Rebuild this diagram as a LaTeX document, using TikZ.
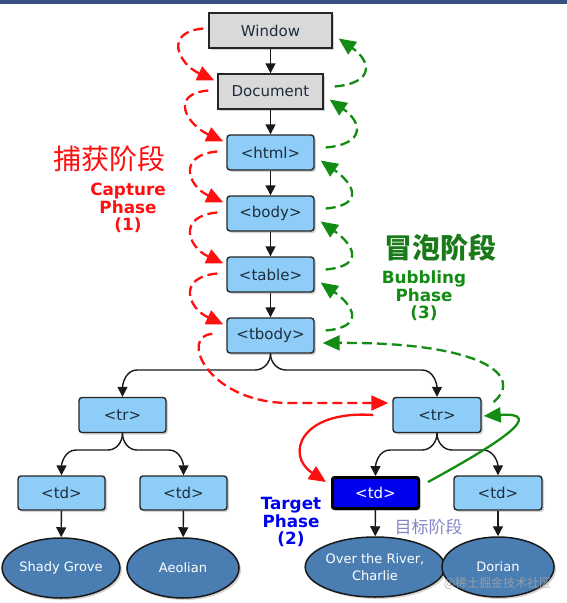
\documentclass[tikz,border=0pt]{standalone}
\usepackage{fontspec}
\setmainfont{DejaVu Sans}
\newfontfamily\cjk{Noto Sans CJK SC}
\usetikzlibrary{arrows.meta,shapes.geometric,shadows}
\definecolor{boxblue}{HTML}{8DCDF7}
\definecolor{boxgray}{HTML}{D9D9D9}
\definecolor{ellblue}{HTML}{4A7EB2}
\definecolor{txtdark}{HTML}{1E2D3D}
\definecolor{redc}{HTML}{FF1010}
\definecolor{greenc}{HTML}{128C12}
\definecolor{greenz}{HTML}{1A7A1A}
\definecolor{tgtblue}{HTML}{0000F0}
\definecolor{purp}{HTML}{8585CC}
\definecolor{barblue}{HTML}{36507F}
\tikzset{
  base/.style={draw=black!85, line width=1.4pt, text=txtdark, font=\fontsize{15}{16}\selectfont, inner sep=0pt,
    drop shadow={shadow xshift=2pt,shadow yshift=-2pt,opacity=0.35}},
  graybox/.style={base, fill=boxgray, minimum height=35pt},
  bluebox/.style={base, fill=boxblue, rounded corners=3pt, minimum width=87pt, minimum height=35pt},
  tgtbox/.style={bluebox, fill=tgtblue, draw=black, line width=3pt, text=white, rounded corners=2pt, minimum width=86pt, minimum height=31pt},
  leaf/.style={ellipse, draw=black!90, line width=1.5pt, fill=ellblue, text=white, minimum width=112pt, minimum height=60pt,
    inner sep=0pt, font=\fontsize{13}{17}\selectfont, align=center,
    drop shadow={shadow xshift=2pt,shadow yshift=-2pt,opacity=0.35}},
  tree/.style={draw=black!90, line width=1.4pt, -{Triangle[length=10pt,width=10pt]}},
  capt/.style={draw=redc, line width=2.3pt, dash pattern=on 10pt off 5pt, -{Triangle[length=17pt,width=15pt]}},
  bubl/.style={draw=greenc, line width=2.3pt, dash pattern=on 10pt off 5pt, -{Triangle[length=17pt,width=15pt]}},
  captsolid/.style={draw=redc, line width=2.3pt, -{Triangle[length=17pt,width=15pt]}},
  bublsolid/.style={draw=greenc, line width=2.3pt, -{Triangle[length=17pt,width=15pt]}},
  phase/.style={font=\bfseries\fontsize{16.8}{17.5}\selectfont, align=center},
}
\begin{document}
\begin{tikzpicture}[x=1pt,y=1pt]
\useasboundingbox (0,0) rectangle (567,-603);
\fill[barblue] (0,0) rectangle (567,-4);

% main chain
\node[graybox, minimum width=123pt] (win) at (270.5,-30.5) {Window};
\node[graybox, minimum width=105pt] (doc) at (270.5,-91.5) {Document};
\node[bluebox] (html) at (270.5,-152.5) {<html>};
\node[bluebox] (body) at (270.5,-213.5) {<body>};
\node[bluebox] (table) at (270.5,-274.5) {<table>};
\node[bluebox] (tbody) at (270.5,-335.5) {<tbody>};
\node[bluebox] (trL) at (122.5,-415) {<tr>};
\node[bluebox, minimum width=88pt] (trR) at (437,-415) {<tr>};
\node[bluebox, minimum height=34pt] (td1) at (61.5,-493) {<td>};
\node[bluebox, minimum height=34pt] (td2) at (183.5,-493) {<td>};
\node[tgtbox] (tdT) at (375.5,-493) {<td>};
\node[bluebox, minimum width=88pt, minimum height=34pt] (td4) at (498,-493) {<td>};
\node[leaf] (e1) at (61,-568) {Shady Grove};
\node[leaf] (e2) at (183,-568) {Aeolian};
\node[leaf] (e3) at (375,-567) {Over the River,\\Charlie};
\node[leaf] (e4) at (498,-567) {Dorian};

% tree connectors
\draw[tree] (win) -- (doc);
\draw[tree] (doc) -- (html);
\draw[tree] (html) -- (body);
\draw[tree] (body) -- (table);
\draw[tree] (table) -- (tbody);
\draw[tree] (tbody.south) to[out=-90,in=0] (255,-370) -- (137,-370) to[out=180,in=90] (trL.north);
\draw[tree] (tbody.south) to[out=-90,in=180] (286,-370) -- (422,-370) to[out=0,in=90] (trR.north);
\draw[tree] (trL.south) to[out=-90,in=0] (108,-450) -- (76,-450) to[out=180,in=90] (td1.north);
\draw[tree] (trL.south) to[out=-90,in=180] (137,-450) -- (169,-450) to[out=0,in=90] (td2.north);
\draw[tree] (trR.south) to[out=-90,in=0] (422,-450) -- (390,-450) to[out=180,in=90] (tdT.north);
\draw[tree] (trR.south) to[out=-90,in=180] (452,-450) -- (483,-450) to[out=0,in=90] (td4.north);
\draw[tree] (td1) -- (e1);
\draw[tree] (td2) -- (e2);
\draw[tree] (tdT) -- (e3);
\draw[tree] (td4) -- (e4);

% capture (red dashed)
\draw[capt] ([shift={(-5,2)}]win.west) to[out=185,in=155,distance=40pt] ([shift={(-3,11)}]doc.west);
\foreach \a/\b in {doc/html, html/body, body/table, table/tbody}
  \draw[capt] ([shift={(-9,1)}]\a.west) to[out=185,in=155,distance=40pt] ([shift={(-3,11)}]\b.west);
% bubbling (green dashed)
\foreach \a/\b in {doc/win, html/doc, body/html, table/body, tbody/table}
  \draw[bubl] ([shift={(11,5)}]\a.east) to[out=5,in=-35,distance=40pt] ([shift={(6,-8)}]\b.east);

% big crossing arrows
\draw[capt] ([shift={(-14,1.5)}]tbody.west) .. controls (180,-335) and (205,-400) .. (285,-403) -- ([shift={(-4,12)}]trR.west);
\draw[bubl] ([shift={(12,13)}]trR.east) .. controls (525,-375) and (480,-342) .. ([shift={(8,-7.5)}]tbody.east);
\draw[captsolid] ([shift={(-19,0)}]trR.west) .. controls (300,-410) and (285,-455) .. ([shift={(-5,11)}]tdT.west);
\draw[bublsolid] ([shift={(8,11)}]tdT.east) .. controls (505,-440) and (545,-412) .. ([shift={(2,-1)}]trR.east);

% labels
\node[text=redc, font=\cjk\fontsize{28}{30}\selectfont] (capzh) at (109.5,-159) {捕获阶段};
\node[phase, text=redc] (capen) at (128,-208) {Capture\\Phase\\(1)};

\node[text=greenz, font=\cjk\bfseries\fontsize{28}{30}\selectfont] (bubzh) at (440,-247.5) {冒泡阶段};
\node[phase, text=greenc] (buben) at (424,-296) {Bubbling\\Phase\\(3)};

\node[phase, text=tgtblue] (tgten) at (291,-522) {Target\\Phase\\(2)};
\node[text=purp, font=\cjk\fontsize{17}{19}\selectfont] (tgtzh) at (428.5,-527.5) {目标阶段};

\node[text=gray!70, opacity=0.8, inner sep=0pt, font=\cjk\fontsize{12}{13}\selectfont] (wm) at (497.5,-583) {@稀土掘金技术社区};
\end{tikzpicture}
\end{document}
